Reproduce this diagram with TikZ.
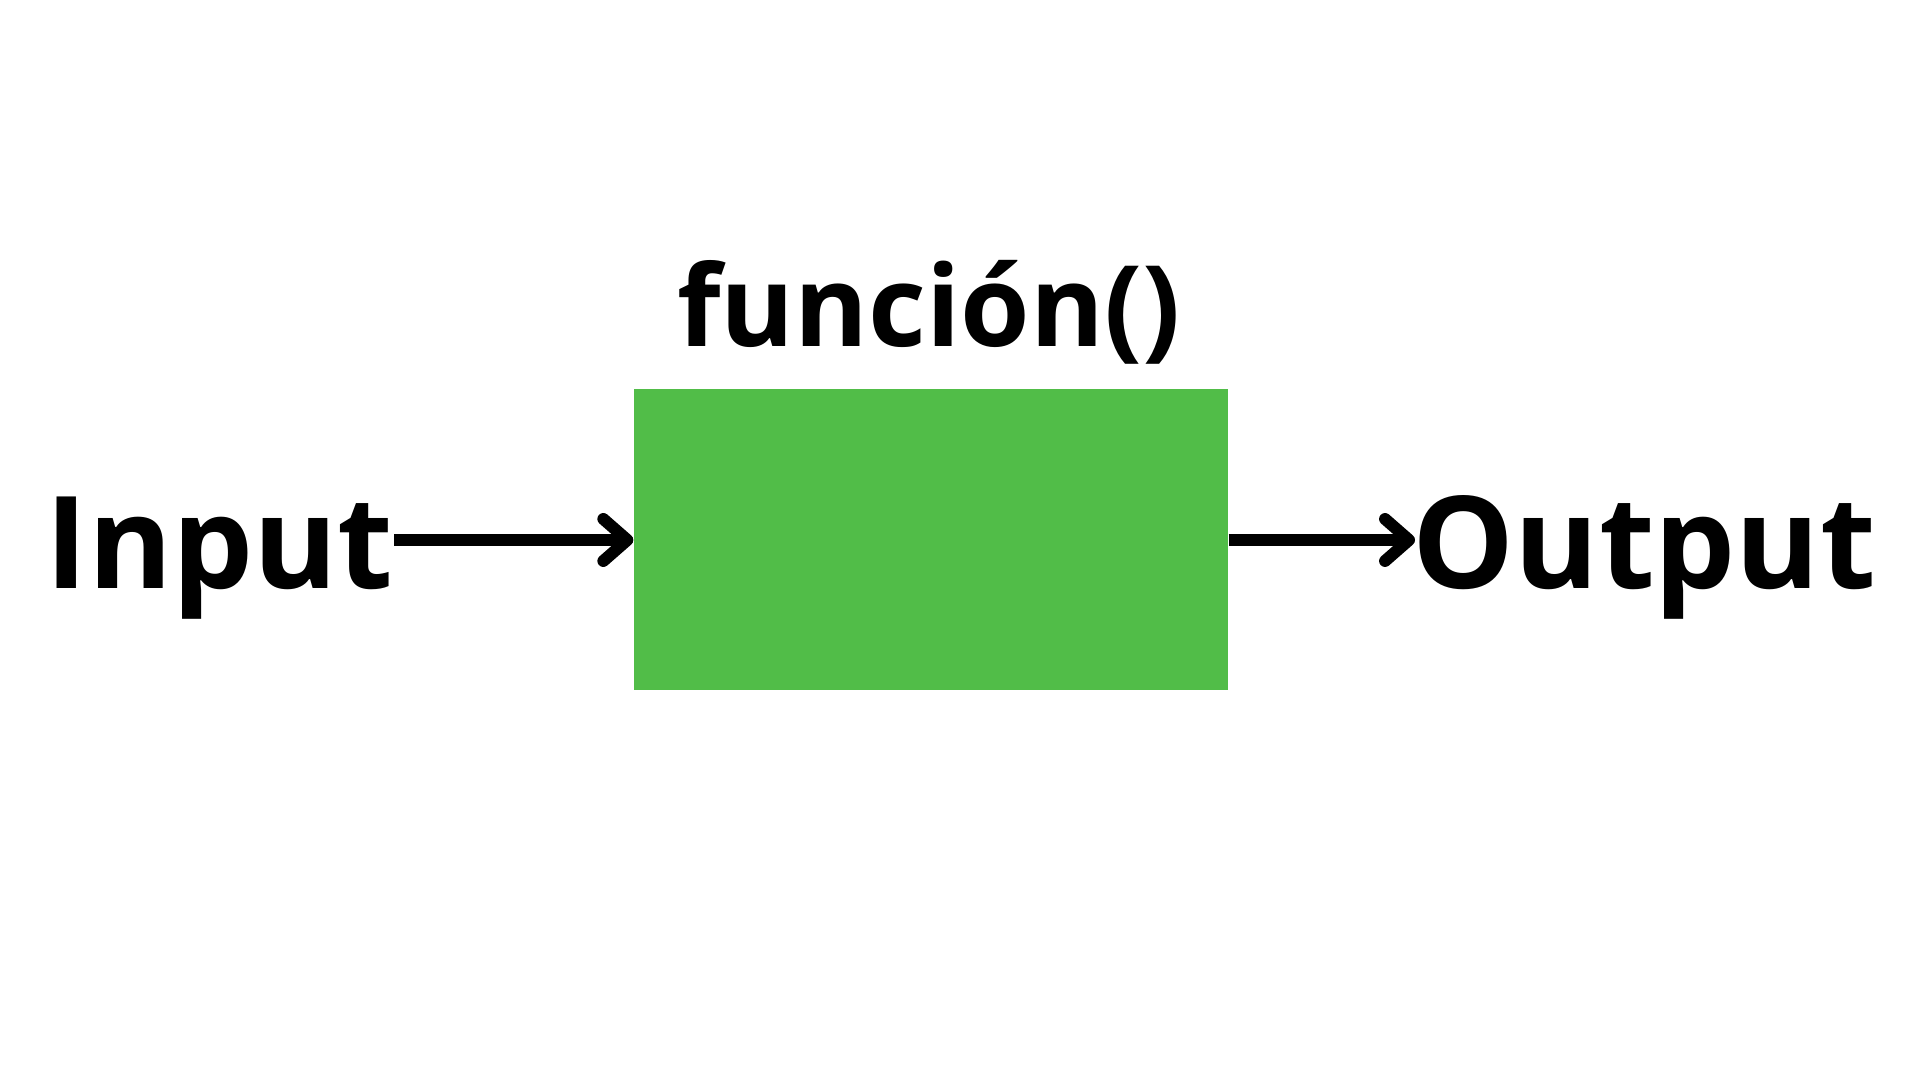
\documentclass[tikz,border=0pt]{standalone}
\usepackage{fontspec}
\setmainfont{Open Sans}
\usetikzlibrary{arrows.meta}
\definecolor{verde}{RGB}{81,189,72}
\tikzset{
  flecha/.style={line width=3.4pt,-{Straight Barb[length=2.4mm,width=4.2mm,round]}},
  texto/.style={inner sep=0pt,font=\bfseries\fontsize{36.5}{44}\selectfont}
}
\begin{document}
\begin{tikzpicture}
	\useasboundingbox (0,0) rectangle (19.2,10.8);
	\node[fill=verde,minimum width=5.94cm,minimum height=3.01cm,inner sep=0pt] (caja) at (9.31,5.40) {};
	\node[texto,anchor=base west] (entrada) at (0.45,4.91) {Input};
	\node[texto,anchor=base west] (salida) at (14.12,4.91) {Output};
	\node[texto,font=\bfseries\fontsize{32}{40}\selectfont,anchor=base] (nombre) at (9.29,7.33) {función()};
	
	\draw[flecha] (entrada.east |- caja.west)--(caja.west);
	\draw[flecha] (caja.east)--([xshift=0.3mm]salida.west |- caja.east);
\end{tikzpicture}
\end{document}
